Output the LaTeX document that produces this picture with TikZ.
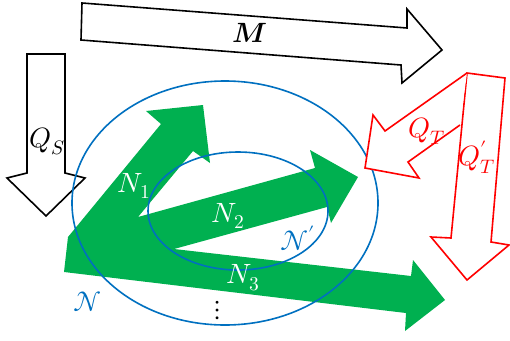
\documentclass[tikz,border=0pt]{standalone}
\usepackage{amsmath}
\usepackage{unicode-math}
\setmathfont{Latin Modern Math}
\definecolor{ggreen}{HTML}{00B050}
\definecolor{bblue}{HTML}{0070C0}
\definecolor{rred}{HTML}{FF0000}
\begin{document}
\begin{tikzpicture}[x=1bp,y=-1bp,
  blackarrow/.style={draw=black,line width=1.6bp,fill=white,line join=miter},
  redarrow/.style={draw=rred,line width=1.6bp,fill=white,line join=miter},
  ell/.style={draw=bblue,line width=1.6bp},
  lab/.style={font=\fontsize{28}{33}\selectfont,inner sep=0pt}]
\useasboundingbox (0,0) rectangle (510,340);
% M arrow
\draw[blackarrow] (82,3) -- (407,28) -- (407,9) -- (442,50) -- (402,83) -- (401,65) -- (81,40) -- cycle;
% Q_S arrow
\draw[blackarrow] (27,54) -- (65,54) -- (65,173) -- (85,178) -- (46,216) -- (7,178) -- (27,173) -- cycle;
% green arrows
\fill[ggreen] (64,272) -- (68,237) -- (161,124) -- (146,111) -- (203,105) -- (210,163) -- (193,151)
  -- (138,217) -- (315,168) -- (310,150) -- (358,177) -- (331,223) -- (327,207)
  -- (174,249) -- (411,276) -- (413,260) -- (445,300) -- (405,331) -- (406,313) -- cycle;
% ellipses
\draw[ell] (225,203) ellipse [x radius=153, y radius=122];
\draw[ell] (238,211) ellipse [x radius=90, y radius=59];
% red arrows
\draw[redarrow] (467,73) -- (505,78) -- (491,242) -- (509,245) -- (467,280) -- (431,237) -- (451,238) -- cycle;
\draw[redarrow] (467,73) -- (385,131) -- (373,115) -- (365,168) -- (419,178) -- (408,162) -- (460,125);
% labels
\node[lab] (m) at (250,33) {$\symbfit{M}$};
\node[lab] (qs) at (47,141) {$Q_S$};
\node[lab,text=rred] (qt) at (427,131) {$Q_T$};
\node[lab,text=rred] (qtp) at (477,157) {$Q'_T$};
\node[lab,text=white] (n1) at (134,186) {$N_1$};
\node[lab,text=white] (n2) at (228,216) {$N_2$};
\node[lab,text=white] (n3) at (243,278) {$N_3$};
\node[lab,text=bblue] (ncp) at (298,238) {$\mathcal{N}'$};
\node[lab,text=bblue] (nc) at (88,302) {$\mathcal{N}$};
\node[lab] (dots) at (218,311) {$\vdots$};
\end{tikzpicture}
\end{document}
